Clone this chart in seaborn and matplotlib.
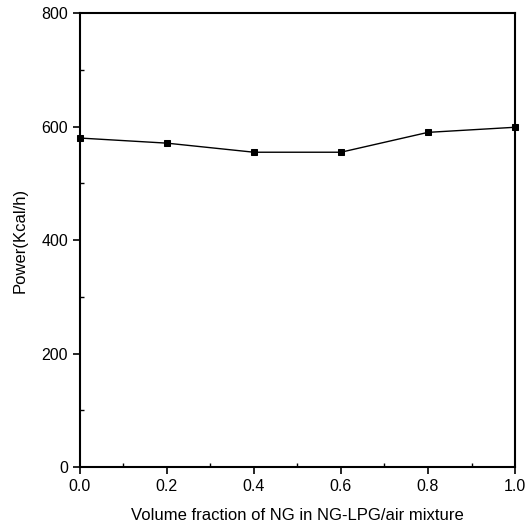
import matplotlib
matplotlib.use("Agg")
import matplotlib.pyplot as plt
import seaborn as sns
import pandas as pd
from matplotlib.ticker import MultipleLocator

fraction = [0.0, 0.2, 0.4, 0.6, 0.8, 1.0]
power = [580, 571, 555, 555, 590, 599]
x_ticks = [0.0, 0.2, 0.4, 0.6, 0.8, 1.0]
x_tick_labels = ["0.0", "0.2", "0.4", "0.6", "0.8", "1.0"]
y_ticks = [0, 200, 400, 600, 800]

sns.set_theme(style="ticks")
plt.rcParams['font.family'] = ['Liberation Sans', 'DejaVu Sans']
plt.rcParams['text.color'] = 'black'
plt.rcParams['axes.labelcolor'] = 'black'

df = pd.DataFrame({"fraction": fraction, "power": power})

fig = plt.figure(figsize=(5.25, 5.29), dpi=100)
ax = fig.add_axes([0.152, 0.117, 0.829, 0.858])
sns.lineplot(data=df, x="fraction", y="power", ax=ax, color="black", lw=1.0,
             marker="s", markersize=5, markeredgecolor="black", markerfacecolor="black",
             clip_on=False)

ax.set_xlim(0, 1.0)
ax.set_ylim(0, 800)
ax.set_xticks(x_ticks)
ax.set_xticklabels(x_tick_labels)
ax.set_yticks(y_ticks)
ax.xaxis.set_minor_locator(MultipleLocator(0.1))
ax.yaxis.set_minor_locator(MultipleLocator(100))
ax.tick_params(which="major", direction="out", length=5, width=1.2, colors="black", labelsize=11.5)
ax.tick_params(which="minor", direction="in", length=3, width=1, colors="black")
for s in ax.spines.values():
    s.set_visible(True)
    s.set_linewidth(1.5)
    s.set_color("black")
ax.set_xlabel("Volume fraction of NG in NG-LPG/air mixture", fontsize=12, labelpad=10, color="black")
ax.set_ylabel("Power(Kcal/h)", fontsize=12, labelpad=10, color="black")

fig.savefig("out.png", dpi=100)
